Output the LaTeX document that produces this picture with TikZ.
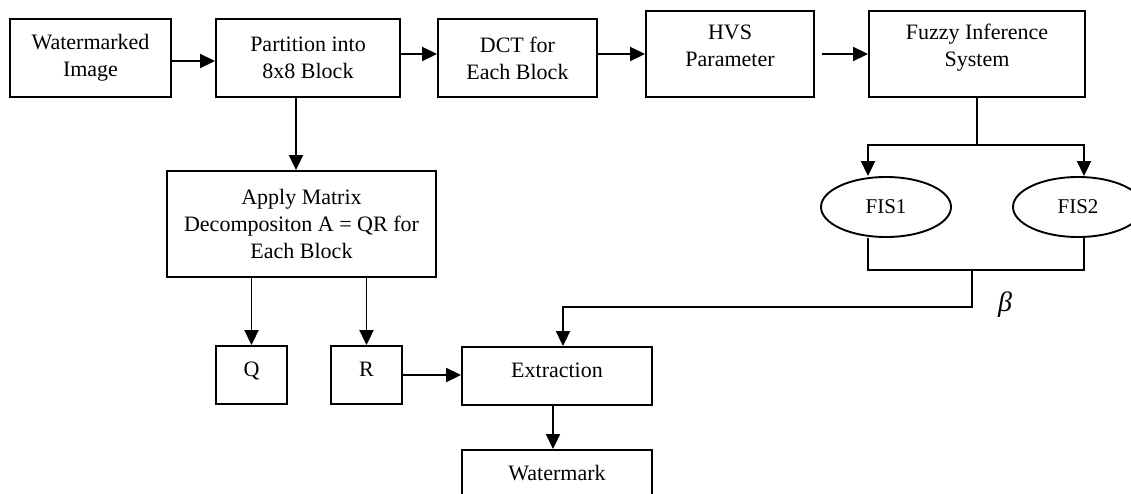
\documentclass[tikz,border=0pt]{standalone}
\usepackage{fontspec}
\setmainfont{Liberation Serif}
\usetikzlibrary{shapes, arrows.meta, positioning}

\begin{document}
\begin{tikzpicture}[x=1pt, y=-1pt]

 	\tikzstyle{block}=[rectangle, draw, line width=1.9pt, align=center, inner sep=0pt, font=\fontsize{22}{27}\selectfont]
 	\tikzstyle{fis}=[ellipse, draw, line width=1.9pt, inner sep=0pt, minimum width=130pt, minimum height=60pt, font=\fontsize{21}{25}\selectfont]
 	\tikzstyle{uptext}=[text depth=12pt]
 	\tikzstyle{arc}=[-{Triangle[length=15pt, width=14pt]}, line width=1.9pt]
 	\tikzstyle{link}=[line width=1.9pt]

 	\useasboundingbox (0,0) rectangle (1131,493);

 	% chaine du haut
 	\node[block, minimum width=161pt, minimum height=78pt] (wimg) at (90.5,58) {Watermarked\\Image};
 	\node[block, minimum width=184pt, minimum height=78pt] (part) at (308,58) {Partition into\\8x8 Block};
 	\node[block, minimum width=159pt, minimum height=78pt] (dct) at (517.5,58) {DCT for\\Each Block};
 	\node[block, minimum width=168pt, minimum height=86pt, text depth=17pt] (hvs) at (730,54) {HVS\\Parameter};
 	\node[block, minimum width=216pt, minimum height=86pt, text depth=17pt] (fis) at (977,54) {Fuzzy Inference\\System};

 	% decomposition et extraction
 	\node[block, minimum width=269pt, minimum height=106pt] (qr) at (301.5,224) {Apply Matrix\\Decompositon A = QR for\\Each Block};
 	\node[block, uptext, minimum width=71pt, minimum height=58pt] (q) at (251.5,375) {Q};
 	\node[block, uptext, minimum width=71pt, minimum height=58pt] (r) at (366.5,375) {R};
 	\node[block, uptext, minimum width=190pt, minimum height=58pt] (ext) at (557,376) {Extraction};
 	\node[block, uptext, minimum width=190pt, minimum height=58pt] (wm) at (557,479) {Watermark};

 	% systemes flous
 	\node[fis] (fis1) at (886,207) {FIS1};
 	\node[fis] (fis2) at (1078,207) {FIS2};
 	\node (beta) at (1005,305) {\fontsize{28}{28}\selectfont\itshape β};

 	\draw[arc] ([yshift=-3pt]wimg.east) -- ([yshift=-3pt]part.west);
 	\draw[arc] ([yshift=4pt]part.east) -- ([yshift=4pt]dct.west);
 	\draw[arc] (dct.east |- hvs.west) -- (hvs.west);
 	\draw[arc] ([xshift=7pt]hvs.east) -- (fis.west);

 	\coordinate (down) at ([xshift=-12pt]part.south);
 	\draw[arc] (down) -- (down |- qr.north);
 	\draw[arc] (qr.south -| q.north) -- (q.north);
 	\draw[arc] (qr.south -| r.north) -- (r.north);
 	\draw[arc] (r.east) -- (r.east -| ext.west);
 	\coordinate (out) at ([xshift=-4pt]ext.south);
 	\draw[arc] (out) -- (out |- wm.north);

 	% vers FIS1 et FIS2
 	\coordinate (fork) at ([yshift=-47pt]fis.south);
 	\draw[link] (fis.south) -- (fork);
 	\draw[arc] (fork) -| ([xshift=-18pt]fis1.north);
 	\draw[arc] (fork) -| ([xshift=6pt]fis2.north);

 	% retour vers l'extraction
 	\coordinate (m1) at ([xshift=-18pt]fis1.south);
 	\coordinate (m2) at ([xshift=6pt]fis2.south);
 	\draw[link] (m1) -- ++(0,32) -| (m2);
 	\coordinate (merge) at (972,269);
 	\draw[arc] (merge) -- ++(0,38) -| ([xshift=6pt]ext.north);

\end{tikzpicture}
\end{document}
